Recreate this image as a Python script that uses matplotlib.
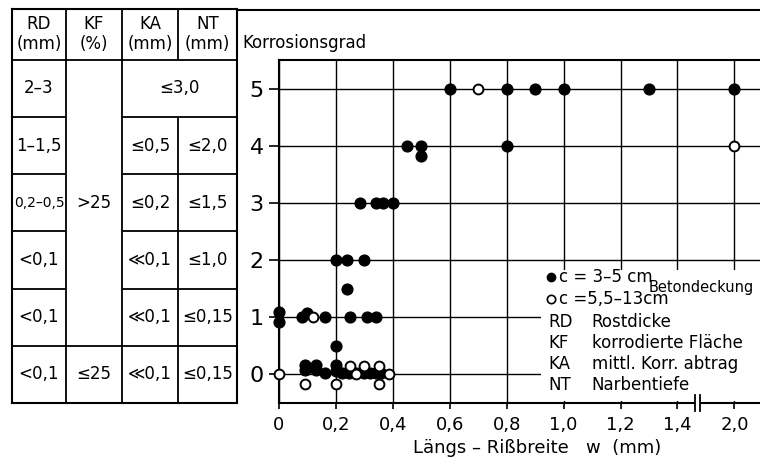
import numpy as np
import matplotlib
matplotlib.use("Agg")
import matplotlib.pyplot as plt
from matplotlib.lines import Line2D
from matplotlib.patches import Rectangle

plt.rcParams['font.family'] = ['Liberation Sans Narrow', 'DejaVu Sans']

# measured points: crack width w (mm), corrosion degree
filled_w = [0.6, 0.8, 0.9, 1.0, 1.3, 2.0,
            0.45, 0.5, 0.5, 0.8,
            0.285, 0.34, 0.365, 0.40,
            0.2, 0.24, 0.3, 0.24,
            0.0, 0.0, 0.08, 0.10, 0.16, 0.25, 0.31, 0.34, 0.2,
            0.09, 0.09, 0.13, 0.13, 0.16, 0.2, 0.2, 0.22, 0.245, 0.27,
            0.30, 0.32, 0.34, 0.36]
filled_k = [5, 5, 5, 5, 5, 5,
            4, 4, 3.82, 4,
            3, 3, 3, 3,
            2, 2, 2, 1.5,
            1.1, 0.92, 1, 1.08, 1, 1, 1, 1, 0.5,
            0.16, 0.07, 0.16, 0.08, 0.03, 0.16, 0.06, 0.02, 0.02, 0.02,
            0.02, 0.02, 0.02, 0.02]
open_w = [0.7, 2.0, 0.12, 0.0, 0.09, 0.2, 0.35, 0.25, 0.30, 0.35, 0.27, 0.385]
open_k = [5, 4, 1, 0, -0.17, -0.17, -0.17, 0.14, 0.14, 0.14, 0, 0]

x_ticks = [0, 0.2, 0.4, 0.6, 0.8, 1.0, 1.2, 1.4, 2.0]
x_labels = ['0', '0,2', '0,4', '0,6', '0,8', '1,0', '1,2', '1,4', '2,0']
y_ticks = [0, 1, 2, 3, 4, 5]

# table (top row = grade 5)
rd_col = ['2–3', '1–1,5', '0,2–0,5', '<0,1', '<0,1', '<0,1']
ka_col = [None, '≤0,5', '≤0,2', '≪0,1', '≪0,1', '≪0,1']
nt_col = [None, '≤2,0', '≤1,5', '≤1,0', '≤0,15', '≤0,15']
headers = ['RD\n(mm)', 'KF\n(%)', 'KA\n(mm)', 'NT\n(mm)']
abbr = ['RD', 'KF', 'KA', 'NT']
abbr_text = ['Rostdicke', 'korrodierte Fläche', 'mittl. Korr. abtrag', 'Narbentiefe']


def brk(w):
    # broken axis: values beyond 1,4 are shifted left
    w = np.asarray(w, dtype=float)
    return np.where(w > 1.45, w - 0.4, w)


W, H = 760, 459
fig = plt.figure(figsize=(W / 100, H / 100), dpi=100)


def fr(x0, y0, x1, y1):
    return [x0 / W, 1 - y1 / H, (x1 - x0) / W, (y1 - y0) / H]


ax = fig.add_axes(fr(279, 60, 760, 403))
ax.set_xlim(0, 1.69)
ax.set_ylim(-0.5, 5.5)
for s in ['left', 'top', 'bottom']:
    ax.spines[s].set_linewidth(1.5)
ax.spines['right'].set_visible(False)

ax.set_xticks(brk(x_ticks))
ax.set_xticklabels(x_labels, fontsize=13)
ax.set_yticks(y_ticks)
ax.set_yticklabels([str(v) for v in y_ticks], fontsize=16)
ax.tick_params(axis='x', length=4, width=1.2, pad=5)
ax.tick_params(axis='y', length=7, width=1.2, pad=4)
ax.grid(True, color='black', lw=1.0)
ax.set_axisbelow(True)

# white area behind the legend text
ax.add_patch(Rectangle((0.92, -0.46), 0.8, 2.29, facecolor='white',
                       edgecolor='none', zorder=1.5))

ax.scatter(brk(filled_w), filled_k, s=60, color='black', zorder=3,
           clip_on=False)
ax.scatter(brk(open_w), open_k, s=50, facecolor='white', edgecolor='black',
           linewidth=1.4, zorder=4, clip_on=False)

# axis break marks
tr = ax.get_xaxis_transform()
ax.add_patch(Rectangle((1.462, -0.02), 0.016, 0.04, transform=tr,
                       facecolor='white', edgecolor='none', clip_on=False,
                       zorder=5))
for xb in [1.462, 1.478]:
    ax.plot([xb, xb], [-0.022, 0.022], transform=tr, color='black', lw=1.3,
            clip_on=False, zorder=6)

ax.set_xlabel('Längs – Rißbreite   w  (mm)', fontsize=13)
ax.xaxis.set_label_coords(0.536, -0.105)

# legend text
ax.plot(0.954, 1.71, 'o', ms=6, color='black', zorder=3)
ax.plot(0.954, 1.32, 'o', ms=6, mfc='white', mec='black', mew=1.2, zorder=3)
ax.text(0.985, 1.71, 'c = 3–5 cm', fontsize=12, va='center', zorder=3)
ax.text(0.985, 1.32, 'c =5,5–13cm', fontsize=12, va='center', zorder=3)
ax.text(1.30, 1.52, 'Betondeckung', fontsize=10.5, va='center', zorder=3)
for i, (a, t) in enumerate(zip(abbr, abbr_text)):
    yy = 0.91 - i * 0.367
    ax.text(0.947, yy, a, fontsize=12, va='center', zorder=3)
    ax.text(1.098, yy, t, fontsize=12, va='center', zorder=3)

fig.text(242 / W, 1 - 43 / H, 'Korrosionsgrad', fontsize=12, va='center')

# table on the left, rows aligned with the grades
tab = fig.add_axes(fr(12, 9, 237, 403))
tab.set_xlim(0, 225)
tab.set_ylim(-0.5, 6.39)
tab.set_xticks([])
tab.set_yticks([])
for s in tab.spines.values():
    s.set_linewidth(1.5)
edges = [0, 54, 110, 166, 225]
centers = [(edges[i] + edges[i + 1]) / 2 for i in range(4)]
lw = 1.3
tab.hlines(5.5, 0, 225, color='black', lw=lw)
tab.hlines(0.5, 0, 225, color='black', lw=lw)
for yy in [4.5, 3.5, 2.5, 1.5]:
    tab.hlines(yy, 0, 54, color='black', lw=lw)
    tab.hlines(yy, 110, 225, color='black', lw=lw)
tab.vlines([54, 110], -0.5, 6.39, color='black', lw=lw)
tab.vlines(166, -0.5, 4.5, color='black', lw=lw)
tab.vlines(166, 5.5, 6.39, color='black', lw=lw)

for c, h in zip(centers, headers):
    tab.text(c, 5.95, h, ha='center', va='center', fontsize=12,
             linespacing=1.1)
for i in range(6):
    g = 5 - i
    fs = 10 if len(rd_col[i]) > 5 else 12
    tab.text(centers[0], g, rd_col[i], ha='center', va='center', fontsize=fs)
    if ka_col[i] is not None:
        tab.text(centers[2], g, ka_col[i], ha='center', va='center',
                 fontsize=12)
        tab.text(centers[3], g, nt_col[i], ha='center', va='center',
                 fontsize=12)
tab.text((110 + 225) / 2, 5, '≤3,0', ha='center', va='center', fontsize=12)
tab.text(centers[1], 3, '>25', ha='center', va='center', fontsize=12)
tab.text(centers[1], 0, '≤25', ha='center', va='center', fontsize=12)

# outer frame line along the top
fig.add_artist(Line2D([237 / W, 1], [1 - 10 / H, 1 - 10 / H], color='black',
                      lw=1.5))

fig.savefig('out.png', dpi=100)
